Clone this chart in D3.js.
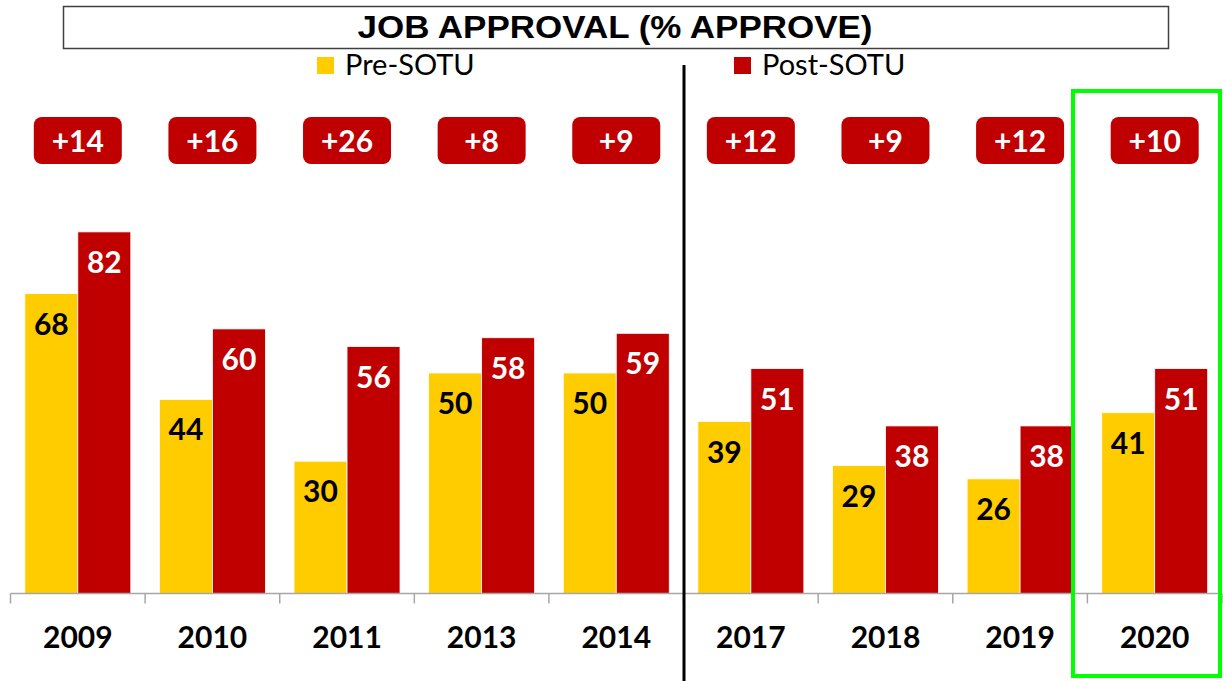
<!DOCTYPE html>
<html><head><meta charset="utf-8">
<script src="https://cdn.jsdelivr.net/npm/d3@7"></script>
<style>html,body{margin:0;padding:0;background:#fff;}svg{display:block;}</style>
</head><body>
<svg id="c" width="1224" height="681"></svg>
<script>
const years = ["2009","2010","2011","2013","2014","2017","2018","2019","2020"];
const preSOTU = [68,44,30,50,50,39,29,26,41];
const postSOTU = [82,60,56,58,59,51,38,38,51];
const changes = ["+14","+16","+26","+8","+9","+12","+9","+12","+10"];
const seriesNames = ["Pre-SOTU","Post-SOTU"];
const titleText = "JOB APPROVAL (% APPROVE)";

const colors = {"Pre-SOTU":"#FFCC00","Post-SOTU":"#C00000"};
const labelColors = {"Pre-SOTU":"#000","Post-SOTU":"#fff"};
const svg = d3.select("#c");
const font = "Lato, 'Open Sans', sans-serif";

const x = d3.scaleBand().domain(years).range([10.5,1222]).padding(0);
const x1 = d3.scaleBand().domain(seriesNames).range([0,x.bandwidth()]).paddingInner(0).paddingOuter(0.27);
const y = d3.scaleLinear().domain([0,100]).range([593.5,152.5]);

// title box
svg.append("rect").attr("x",63.5).attr("y",6.5).attr("width",1105).attr("height",42)
  .attr("fill","#fff").attr("stroke","#404040").attr("stroke-width",1.5);
svg.append("text").attr("x",615).attr("y",38).attr("text-anchor","middle")
  .attr("font-family","'Liberation Sans', Arial, sans-serif").attr("font-weight","bold")
  .attr("font-size",31).attr("textLength",515).attr("lengthAdjust","spacingAndGlyphs")
  .text(titleText);

// legend
const legendPos = [{x:317,s:"Pre-SOTU"},{x:734,s:"Post-SOTU"}];
legendPos.forEach(d=>{
  svg.append("rect").attr("x",d.x).attr("y",57).attr("width",17).attr("height",17).attr("fill",colors[d.s]);
  svg.append("text").attr("x",d.x+28).attr("y",75).attr("font-family",font).attr("font-size",29)
    .attr("fill","#000").text(d.s);
});

const data = years.map((yr,i)=>({year:yr, vals:[{s:"Pre-SOTU",v:preSOTU[i]},{s:"Post-SOTU",v:postSOTU[i]}], change:changes[i]}));

const g = svg.selectAll("g.year").data(data).enter().append("g").attr("class","year")
  .attr("transform",d=>`translate(${x(d.year)},0)`);

g.selectAll("rect.bar").data(d=>d.vals).enter().append("rect").attr("class","bar")
  .attr("x",d=>x1(d.s)).attr("width",x1.bandwidth())
  .attr("y",d=>y(d.v)).attr("height",d=>y(0)-y(d.v))
  .attr("fill",d=>colors[d.s]).attr("stroke","#fff").attr("stroke-width",0.8);

g.selectAll("text.val").data(d=>d.vals).enter().append("text").attr("class","val")
  .attr("x",d=>x1(d.s)+x1.bandwidth()/2).attr("y",d=>y(d.v)+41)
  .attr("text-anchor","middle").attr("font-family",font).attr("font-weight","bold")
  .attr("font-size",30).attr("fill",d=>labelColors[d.s]).text(d=>d.v);

// badges
g.append("rect").attr("x",x.bandwidth()/2-44).attr("y",117).attr("width",88).attr("height",47)
  .attr("rx",8).attr("fill","#C00000");
g.append("text").attr("x",x.bandwidth()/2).attr("y",152).attr("text-anchor","middle")
  .attr("font-family",font).attr("font-weight","bold").attr("font-size",30).attr("fill","#fff")
  .text(d=>d.change);

// axis
const axis = d3.axisBottom(x).tickSize(0).tickPadding(0);
const ax = svg.append("g").attr("transform",`translate(0,${y(0)})`).call(axis);
ax.select(".domain").attr("stroke","#a6a6a6").attr("stroke-width",1.5).attr("d","M10.5,0H1222");
ax.selectAll(".tick text").attr("font-family",font).attr("font-weight","bold").attr("font-size",30)
  .attr("fill","#000").attr("dy",0).attr("y",54);
// category boundary ticks
const bounds = years.map(yr=>x(yr)).concat([x(years[years.length-1])+x.step()]);
svg.selectAll("line.bt").data(bounds).enter().append("line").attr("class","bt")
  .attr("x1",d=>d).attr("x2",d=>d).attr("y1",y(0)).attr("y2",y(0)+10)
  .attr("stroke","#a6a6a6").attr("stroke-width",1.5);

// separator line
svg.append("line").attr("x1",684).attr("x2",684).attr("y1",65).attr("y2",681)
  .attr("stroke","#000").attr("stroke-width",3);

// highlight box
svg.append("rect").attr("x",1073).attr("y",91).attr("width",147).attr("height",585)
  .attr("fill","none").attr("stroke","#00FF00").attr("stroke-width",4);
</script>
</body></html>
